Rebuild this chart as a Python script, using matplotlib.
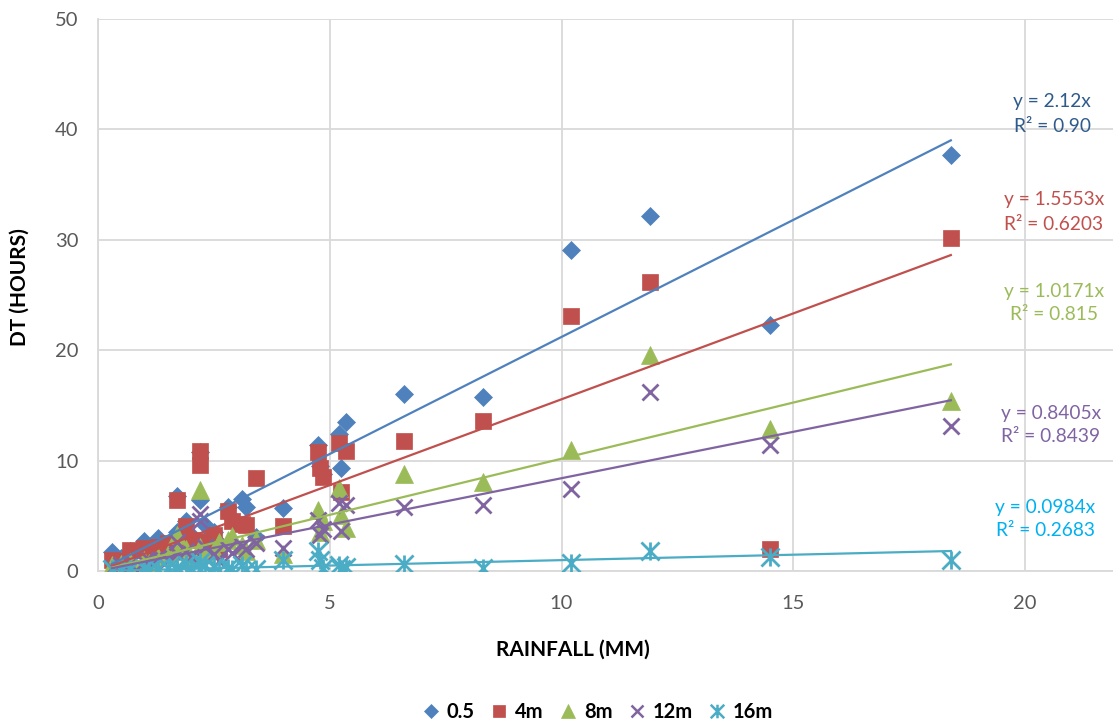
import matplotlib
matplotlib.use("Agg")
import matplotlib.pyplot as plt
from matplotlib.path import Path
from matplotlib.lines import Line2D
import numpy as np

plt.rcParams['font.family'] = ['Lato', 'DejaVu Sans']

# ---------------- data ----------------
rainfall = [0.3, 0.5, 0.7, 1.0, 1.1, 1.3, 1.5, 1.7, 1.7, 1.9, 2.0, 2.2, 2.2, 2.3,
            2.5, 2.6, 2.8, 2.9, 3.1, 3.2, 3.4, 4.0, 4.75, 4.8, 4.85, 5.2, 5.25,
            5.35, 6.6, 8.3, 10.2, 11.9, 14.5, 18.4]
dt_05 = [1.7, 1.2, 1.8, 2.7, 2.0, 3.0, 2.3, 6.8, 3.5, 4.5, 3.3, 10.8, 6.4, 4.2,
         3.5, 2.5, 5.8, 4.8, 6.5, 5.8, 3.1, 5.7, 11.4, 9.5, 8.8, 12.4, 9.3,
         13.5, 16.0, 15.8, 29.1, 32.2, 22.3, 37.7]
dt_4m = [1.0, 0.9, 1.9, 2.1, 1.5, 2.2, 2.5, 6.4, 2.3, 4.1, 2.8, 10.9, 9.6, 2.7,
         3.3, 2.0, 5.4, 4.5, 4.3, 4.2, 8.4, 4.1, 10.8, 9.3, 8.5, 11.6, 7.2,
         10.9, 11.8, 13.6, 23.1, 26.2, 2.0, 30.2]
dt_8m = [0.5, 0.6, 0.8, 1.0, 0.7, 1.3, 1.5, 3.3, 1.8, 2.0, 1.2, 7.3, 2.2, 1.5,
         1.9, 2.6, 2.8, 3.2, 2.4, 1.8, 2.8, 1.5, 5.5, 3.5, 4.5, 7.5, 5.1,
         3.9, 8.8, 8.1, 11.0, 19.6, 12.9, 15.4]
dt_12m = [0.3, 0.5, 0.6, 0.8, 1.0, 1.2, 1.0, 2.6, 1.5, 1.8, 1.3, 5.2, 4.5, 2.2,
          1.5, 0.9, 2.0, 1.6, 2.3, 2.0, 2.5, 2.1, 4.6, 3.3, 3.8, 6.2, 3.6,
          6.0, 5.8, 6.0, 7.4, 16.2, 11.4, 13.1]
dt_16m = [0.2, 0.1, 0.2, 0.3, 0.1, 0.2, 0.3, 0.4, 0.1, 0.6, 0.3, 0.8, 0.2, 0.5,
          0.4, 0.1, 0.3, 0.2, 0.5, 0.1, 0.2, 1.0, 1.8, 1.0, 0.3, 0.5, 0.2,
          0.4, 0.6, 0.3, 0.7, 1.8, 1.3, 1.0]

series_names = ['0.5', '4m', '8m', '12m', '16m']
slopes = [2.12, 1.5553, 1.0171, 0.8405, 0.0984]
eq_labels = ['y = 2.12x', 'y = 1.5553x', 'y = 1.0171x', 'y = 0.8405x', 'y = 0.0984x']
r2_labels = ['R² = 0.90', 'R² = 0.6203', 'R² = 0.815', 'R² = 0.8439', 'R² = 0.2683']
x_ticks = [0, 5, 10, 15, 20]
y_ticks = [0, 10, 20, 30, 40, 50]

# ---------------- style ----------------
marker_colors = ['#4F81BD', '#C0504D', '#9BBB59', '#8064A2', '#4BACC6']
line_colors = ['#4F81BD', '#C0504D', '#9BBB59', '#8064A2', '#4BACC6']
text_colors = ['#2E5A8C', '#C0504D', '#9BBB59', '#8064A2', '#00B0F0']

star = Path([(-1, -1), (1, 1), (-1, 1), (1, -1), (0, -1), (0, 1)],
            [Path.MOVETO, Path.LINETO, Path.MOVETO, Path.LINETO, Path.MOVETO, Path.LINETO])
markers = ['D', 's', '^', 'x', star]
msizes = [9.5, 12, 12.5, 12, 13]
filled = [True, True, True, False, False]

W, H = 1113, 724
fig = plt.figure(figsize=(W / 100, H / 100), dpi=100)
x0, x20, xr = 98, 1025, 1113
y0, y50 = 571, 19
ax = fig.add_axes([x0 / W, (H - y0) / H, (xr - x0) / W, (y0 - y50) / H])
xmax = 20 * (xr - x0) / (x20 - x0)
ax.set_xlim(0, xmax)
ax.set_ylim(0, 50)
ax.set_xticks(x_ticks)
ax.set_yticks(y_ticks)
ax.grid(True, color='#D9D9D9', linewidth=1.3)
ax.set_axisbelow(True)
for s in ['top', 'right']:
    ax.spines[s].set_visible(False)
for s in ['left', 'bottom']:
    ax.spines[s].set_color('#D9D9D9')
    ax.spines[s].set_linewidth(1.3)
ax.tick_params(length=0, labelsize=14.5, labelcolor='#595959')
ax.tick_params(axis='x', pad=17)
ax.tick_params(axis='y', pad=14)

all_series = [dt_05, dt_4m, dt_8m, dt_12m, dt_16m]
handles = []
for i, ys in enumerate(all_series):
    if filled[i]:
        ax.plot(rainfall, ys, linestyle='none', marker=markers[i], markersize=msizes[i],
                markerfacecolor=marker_colors[i], markeredgecolor=marker_colors[i],
                markeredgewidth=0.5, zorder=3)
    else:
        ax.plot(rainfall, ys, linestyle='none', marker=markers[i], markersize=msizes[i],
                markerfacecolor='none', markeredgecolor=marker_colors[i],
                markeredgewidth=2, zorder=3)
    handles.append(Line2D([], [], linestyle='none', marker=markers[i],
                          markersize=msizes[i] * 0.75,
                          markerfacecolor=marker_colors[i] if filled[i] else 'none',
                          markeredgecolor=marker_colors[i],
                          markeredgewidth=0.5 if filled[i] else 1.8))

xr_min, xr_max = min(rainfall), max(rainfall)
xx = np.array([xr_min, xr_max])
for i, k in enumerate(slopes):
    ax.plot(xx, k * xx, color=line_colors[i], linewidth=1.6, zorder=4)

# trendline labels (pixel positions converted to axes fractions)
eq_pos = [(1052, 102, 127), (1054, 199, 224), (1054, 291, 315), (1051, 413, 437), (1045, 507, 530)]
for i, (px, py1, py2) in enumerate(eq_pos):
    ax.text((px - x0) / (xr - x0), (y0 - py1) / (y0 - y50), eq_labels[i],
            transform=ax.transAxes, ha='center', va='center', fontsize=13.8,
            color=text_colors[i], zorder=5)
    ax.text((px - x0) / (xr - x0), (y0 - py2) / (y0 - y50), r2_labels[i],
            transform=ax.transAxes, ha='center', va='center', fontsize=13.8,
            color=text_colors[i], zorder=5)

ax.set_xlabel('RAINFALL (MM)', fontsize=15, fontweight='bold', color='black')
ax.xaxis.set_label_coords((573 - x0) / (xr - x0), (y0 - 640) / (y0 - y50))
ax.set_ylabel('DT (HOURS)', fontsize=15, fontweight='bold', color='black')
ax.yaxis.set_label_coords((30 - x0) / (xr - x0), (y0 - 287) / (y0 - y50))

leg = fig.legend(handles, series_names, loc='center', bbox_to_anchor=(597 / W, 12 / H),
                 ncol=5, frameon=False, handlelength=1.0, handletextpad=0.3,
                 columnspacing=0.7, prop={'size': 14.5, 'weight': 'bold'})

fig.savefig('out.png', dpi=100)
